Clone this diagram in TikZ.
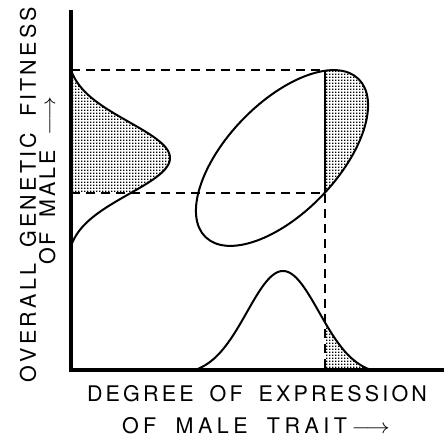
\documentclass[tikz,border=0pt]{standalone}
\usepackage{fontspec}
\usepackage{graphicx}
\newfontfamily\labelfont{TeX Gyre Heros}
\usetikzlibrary{patterns}
\pgfdeclarepatternformonly{stipple}{\pgfpointorigin}{\pgfpoint{3.3pt}{3.3pt}}{\pgfpoint{3.3pt}{3.3pt}}%
  {\pgfpathrectangle{\pgfpointorigin}{\pgfpoint{1.6pt}{1.6pt}}\pgfusepath{fill}}
\ExplSyntaxOn
\NewDocumentCommand\spread{m}
  {
    \tl_set:Nx \l_tmpa_tl { \tl_tail:n {#1} }
    \tl_head:n {#1}
    \tl_map_inline:Nn \l_tmpa_tl { \hskip 0pt plus 1fil\relax ##1 }
  }
\ExplSyntaxOff
\newcommand\gap{\hskip 8pt plus 2.5fil\relax}
\newcommand\longarrow{\scalebox{1.15}[1]{$\longrightarrow$}}

\begin{document}
\begin{tikzpicture}[x=1pt,y=1pt,
  axis/.style={line width=3.4pt},
  curve/.style={line width=2pt},
  guide/.style={line width=2pt,dash pattern=on 9pt off 6pt},
  shade/.style={pattern=stipple},
  axislabel/.style={font=\labelfont\fontsize{21.5}{26}\selectfont,inner sep=0pt,anchor=base},
  declare function={bell(\d)=99*(exp(-\d*\d/2592)-0.0504)/0.9496;}]
  \useasboundingbox (-71,-69) rectangle (373,370);
  \coordinate (origin) at (0,0);
  \coordinate (ytop) at (0,360);
  \coordinate (xend) at (373,0);
  \coordinate (hi) at (0,300);
  \coordinate (lo) at (0,177);
  \coordinate (top) at (254,300);
  \coordinate (cut) at (254,177);
  \coordinate (foot) at (254,0);
  \begin{scope}
    \clip (211,212) circle[x radius=110,y radius=55,rotate=46];
    \fill[shade] (254,0) rectangle (373,370);
    \draw[curve] (foot) -- (254,370);
  \end{scope}
  \fill[shade] (lo) -- plot[domain=-35:88,samples=60] ({bell(\x)},{212+\x}) -- cycle;
  \fill[shade] (foot) -- plot[domain=42:88,samples=30] ({212+\x},{bell(\x)}) -- cycle;
  \draw[guide] (hi) -- (top);
  \draw[guide] (lo) -- (cut) -- (foot);
  \draw[curve] (211,212) circle[x radius=110,y radius=55,rotate=46];
  \draw[curve] plot[domain=-88:88,samples=100] ({bell(\x)},{212+\x});
  \draw[curve] plot[domain=-88:88,samples=100] ({212+\x},{bell(\x)});
  \draw[axis] (ytop) -- (origin) -- (xend);
  \node[axislabel] (xlabA) at (186,-31.5) {\makebox[340pt][s]{\spread{DEGREE}\gap\spread{OF}\gap\spread{EXPRESSION}}};
  \node[axislabel] (xlabB) at (185,-63) {\makebox[268pt][s]{\spread{OF}\gap\spread{MALE}\gap\spread{TRAIT{\longarrow}}}};
  \node[axislabel,rotate=90] (ylabA) at (-35,175.5) {\makebox[375pt][s]{\spread{OVERALL}\gap\spread{GENETIC}\gap\spread{FITNESS}}};
  \node[axislabel,rotate=90] (ylabB) at (-16,189) {\makebox[168pt][s]{\spread{OF}\gap\spread{MALE}\gap\longarrow}};
\end{tikzpicture}
\end{document}
